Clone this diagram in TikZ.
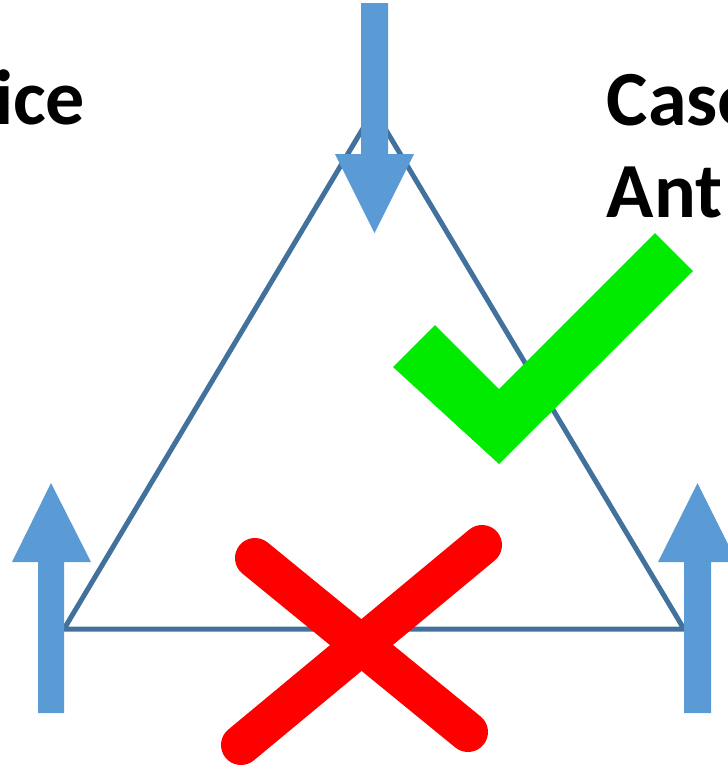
\documentclass[tikz,border=0pt]{standalone}
\usepackage{fontspec}
\setmainfont{Carlito}
\definecolor{arrowblue}{HTML}{5B9BD5}
\definecolor{triblue}{HTML}{41719C}
\definecolor{checkgreen}{RGB}{0,235,0}
\begin{document}
\begin{tikzpicture}[x=0.01cm,y=-0.01cm,
  bigarrow/.style={fill=arrowblue,draw=none},
  lbl/.style={font=\fontsize{22.2}{26.6}\selectfont\bfseries,inner sep=0pt,text=black},
  edge/.style={draw=triblue,line width=0.05cm,line join=miter},
  cross/.style={draw=red,line width=0.4cm,line cap=round}]
\useasboundingbox (0,0) rectangle (728,766);
\clip (0,0) rectangle (728,766);
% labels (cropped by the picture edge)
\node[lbl,anchor=base east] (lefttext) at (86,124) {ice};
\node[lbl,anchor=base west] (case) at (606,125) {Case};
\node[lbl,anchor=base west] (ant) at (606,217) {Ant};
% triangle
\coordinate (A) at (374,110);
\coordinate (B) at (64,629);
\coordinate (C) at (684,629);
\draw[edge] (A) -- (B) -- (C) -- cycle;
% arrows
\fill[bigarrow] (361,3) -- (388,3) -- (388,154) -- (414,154) -- (374.5,233) -- (335,154) -- (361,154) -- cycle;
\fill[bigarrow] (38,713) -- (64,713) -- (64,562) -- (91,562) -- (51,483) -- (12,562) -- (38,562) -- cycle;
\fill[bigarrow] (684,713) -- (711,713) -- (711,562) -- (737,562) -- (697.5,483) -- (658,562) -- (684,562) -- cycle;
% check mark
\fill[checkgreen] (393,367) -- (435,325) -- (499,389) -- (655,233) -- (693,271) -- (499,464) -- cycle;
% red cross
\coordinate (x1) at (255,558);
\coordinate (x2) at (468,732);
\coordinate (x3) at (482,545);
\coordinate (x4) at (241,745);
\draw[cross] (x1) -- (x2);
\draw[cross] (x3) -- (x4);
\end{tikzpicture}
\end{document}
